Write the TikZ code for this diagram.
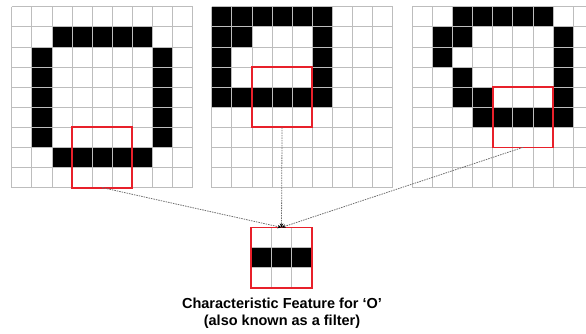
\documentclass[tikz,border=0pt]{standalone}
\usepackage{fontspec}
\setmainfont{Liberation Sans}
\usetikzlibrary{arrows.meta}
\definecolor{gridgray}{HTML}{BDBDBD}
\definecolor{boxred}{HTML}{E8202A}
\definecolor{conngray}{HTML}{6E6E6E}
\tikzset{
  gridline/.style={draw=gridgray, line width=0.8pt},
  cellfill/.style={fill=black},
  redbox/.style={draw=boxred, line width=1.8pt, minimum width=60.3pt, minimum height=60.3pt, inner sep=0pt, outer sep=0pt},
  conn/.style={draw=conngray, line width=0.8pt, dash pattern=on 1.5pt off 1pt, -{Stealth[length=4pt,width=3.5pt,color=black]}},
  caption/.style={font=\bfseries\fontsize{14.5}{17}\selectfont, align=center}
}
\begin{document}
\begin{tikzpicture}[x=1pt,y=-1pt]
\useasboundingbox (0,0) rectangle (586,333);
% Grid 1
\begin{scope}[shift={(11.7,6.7)}, x=20.1pt, y=-20.1pt]
  \foreach \r/\c in {1/2,1/3,1/4,1/5,1/6, 2/1,3/1,4/1,5/1,6/1, 2/7,3/7,4/7,5/7,6/7, 7/2,7/3,7/4,7/5,7/6}
    \fill[cellfill] (\c,\r) rectangle ++(1,1);
  \foreach \i in {0,...,9} {
    \draw[gridline] (\i,0) -- (\i,9);
    \draw[gridline] (0,\i) -- (9,\i);
  }
  \node[redbox] (r1) at (4.5,7.5) {};
\end{scope}
% Grid 2
\begin{scope}[shift={(211.7,6.7)}, x=20.1pt, y=-20.1pt]
  \foreach \r/\c in {0/0,0/1,0/2,0/3,0/4,0/5, 1/0,1/1,1/5, 2/0,2/5, 3/0,3/5, 4/0,4/1,4/2,4/3,4/4,4/5}
    \fill[cellfill] (\c,\r) rectangle ++(1,1);
  \foreach \i in {0,...,9} {
    \draw[gridline] (\i,0) -- (\i,9);
    \draw[gridline] (0,\i) -- (9,\i);
  }
  \node[redbox] (r2) at (3.5,4.5) {};
\end{scope}
% Grid 3
\begin{scope}[shift={(412.3,6.7)}, x=20.1pt, y=-20.1pt]
  \foreach \r/\c in {0/2,0/3,0/4,0/5,0/6, 1/1,1/2,1/7, 2/1,2/7, 3/2,3/7, 4/2,4/3,4/7, 5/3,5/4,5/5,5/6,5/7}
    \fill[cellfill] (\c,\r) rectangle ++(1,1);
  \foreach \i in {0,...,9} {
    \draw[gridline] (\i,0) -- (\i,9);
    \draw[gridline] (0,\i) -- (9,\i);
  }
  \node[redbox] (r3) at (5.5,5.5) {};
\end{scope}
% Filter
\begin{scope}[shift={(251.2,227.4)}, x=20.2pt, y=-20.2pt]
  \fill[cellfill] (0,1) rectangle (3,2);
  \foreach \i in {0,...,3} {
    \draw[gridline] (\i,0) -- (\i,3);
    \draw[gridline] (0,\i) -- (3,\i);
  }
  \node[redbox, minimum width=60.6pt, minimum height=60.6pt] (f) at (1.5,1.5) {};
\end{scope}
% Connectors
\draw[conn] (r1.south) -- (f.north);
\draw[conn] (r2.south) -- (f.north);
\draw[conn] (r3.south) -- (f.north);
% Caption
\node[caption] (cap) at (282,313.5) {Characteristic Feature for ‘O’\\(also known as a filter)};
\end{tikzpicture}
\end{document}
